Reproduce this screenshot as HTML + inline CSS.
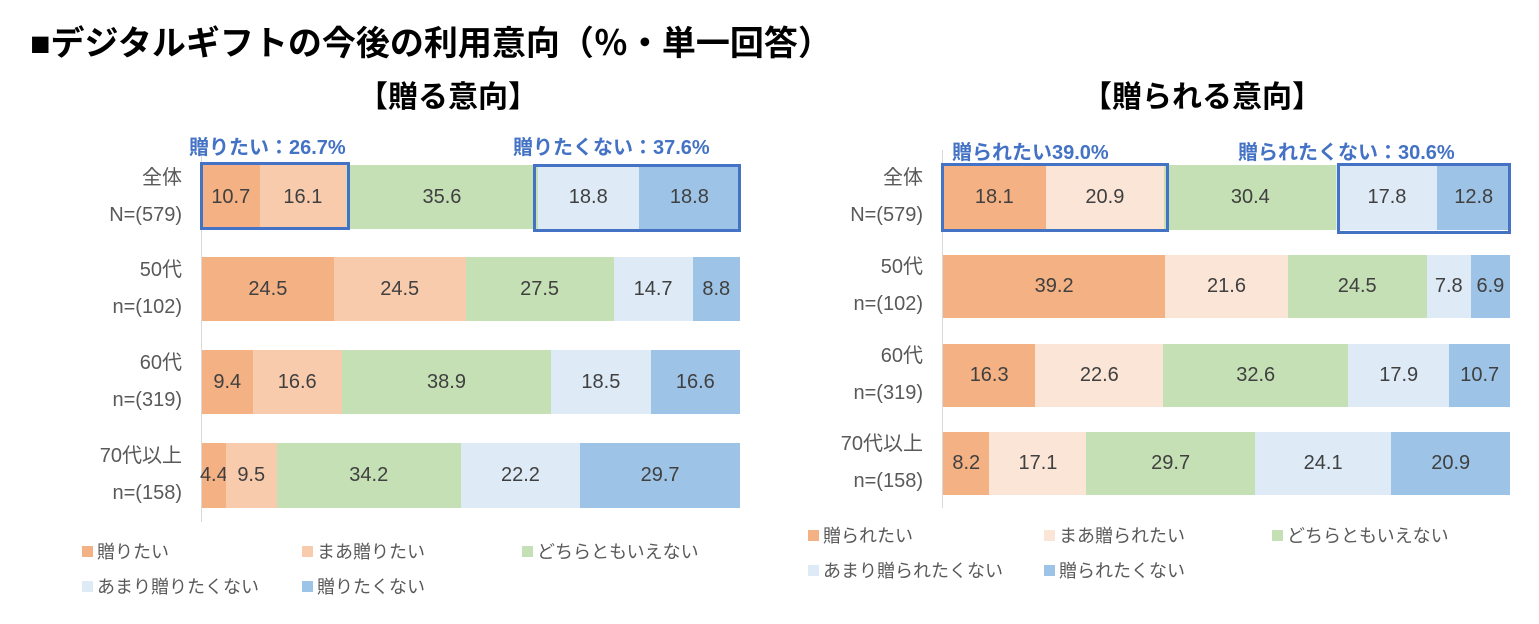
<!DOCTYPE html>
<html><head><meta charset="utf-8"><style>
body{margin:0;width:1539px;height:624px;background:#fff;position:relative;overflow:hidden;font-family:"Liberation Sans","Noto Sans CJK JP",sans-serif;}
.a{position:absolute;}
.t{font-weight:bold;color:#000;white-space:nowrap;}
.bar{position:absolute;display:flex;}
.bar div{height:100%;display:flex;align-items:center;justify-content:center;font-size:20px;color:#404040;overflow:visible;white-space:nowrap;}
.c1{background:#F4B183}.c2{background:#F8CBAD}.c2b{background:#FBE5D6}.c3{background:#C5E0B4}.c4{background:#DEEBF7}.c5{background:#9DC3E6}
.cat{position:absolute;text-align:right;font-size:20px;color:#595959;line-height:37px;white-space:nowrap;}
.box{position:absolute;border:3px solid #4472C4;box-sizing:border-box;}
.hl{position:absolute;color:#4472C4;font-weight:bold;font-size:20px;white-space:nowrap;}
.lg{position:absolute;font-size:18px;color:#595959;white-space:nowrap;display:flex;align-items:center;}
.lg span{display:inline-block;width:11px;height:11px;margin-right:4px;}
.ax{position:absolute;width:1px;background:#d9d9d9;}
</style></head><body>
<div class="a t" style="left:30px;top:16px;font-size:34px;">■デジタルギフトの今後の利用意向（％・単一回答）</div>
<div class="a t" style="left:358px;top:72px;font-size:30px;">【贈る意向】</div>
<div class="a t" style="left:1082px;top:72px;font-size:30px;">【贈られる意向】</div>

<!-- left chart -->
<div class="ax" style="left:201px;top:150px;height:372px;"></div>
<div class="cat" style="right:1357px;top:160px;">全体<br>N=(579)</div>
<div class="cat" style="right:1357px;top:252px;">50代<br>n=(102)</div>
<div class="cat" style="right:1357px;top:345px;">60代<br>n=(319)</div>
<div class="cat" style="right:1357px;top:438px;">70代以上<br>n=(158)</div>
<div class="bar" style="left:202px;top:165px;width:538px;height:64px;"><div class="c1" style="width:10.7%">10.7</div><div class="c2" style="width:16.1%">16.1</div><div class="c3" style="width:35.6%">35.6</div><div class="c4" style="width:18.8%">18.8</div><div class="c5" style="width:18.8%">18.8</div></div>
<div class="bar" style="left:202px;top:257px;width:538px;height:64px;"><div class="c1" style="width:24.5%">24.5</div><div class="c2" style="width:24.5%">24.5</div><div class="c3" style="width:27.5%">27.5</div><div class="c4" style="width:14.7%">14.7</div><div class="c5" style="width:8.8%">8.8</div></div>
<div class="bar" style="left:202px;top:350px;width:538px;height:64px;"><div class="c1" style="width:9.4%">9.4</div><div class="c2" style="width:16.6%">16.6</div><div class="c3" style="width:38.9%">38.9</div><div class="c4" style="width:18.5%">18.5</div><div class="c5" style="width:16.6%">16.6</div></div>
<div class="bar" style="left:202px;top:443px;width:538px;height:65px;"><div class="c1" style="width:4.4%">4.4</div><div class="c2" style="width:9.5%">9.5</div><div class="c3" style="width:34.2%">34.2</div><div class="c4" style="width:22.2%">22.2</div><div class="c5" style="width:29.7%">29.7</div></div>
<div class="box" style="left:200px;top:162px;width:150px;height:68px;"></div>
<div class="box" style="left:533px;top:164px;width:208px;height:68px;"></div>
<div class="hl" style="left:189px;top:131px;">贈りたい：26.7%</div>
<div class="hl" style="left:513px;top:131px;">贈りたくない：37.6%</div>
<div class="lg" style="left:82px;top:538px;"><span class="c1"></span>贈りたい</div>
<div class="lg" style="left:302px;top:538px;"><span class="c2"></span>まあ贈りたい</div>
<div class="lg" style="left:522px;top:538px;"><span class="c3"></span>どちらともいえない</div>
<div class="lg" style="left:82px;top:573px;"><span class="c4"></span>あまり贈りたくない</div>
<div class="lg" style="left:302px;top:573px;"><span class="c5"></span>贈りたくない</div>

<!-- right chart -->
<div class="ax" style="left:942px;top:150px;height:358px;"></div>
<div class="cat" style="right:616px;top:160px;">全体<br>N=(579)</div>
<div class="cat" style="right:616px;top:249px;">50代<br>n=(102)</div>
<div class="cat" style="right:616px;top:338px;">60代<br>n=(319)</div>
<div class="cat" style="right:616px;top:426px;">70代以上<br>n=(158)</div>
<div class="bar" style="left:943px;top:165px;width:567px;height:65px;"><div class="c1" style="width:18.1%">18.1</div><div class="c2b" style="width:20.9%">20.9</div><div class="c3" style="width:30.4%">30.4</div><div class="c4" style="width:17.8%">17.8</div><div class="c5" style="width:12.8%">12.8</div></div>
<div class="bar" style="left:943px;top:255px;width:567px;height:63px;"><div class="c1" style="width:39.2%">39.2</div><div class="c2b" style="width:21.6%">21.6</div><div class="c3" style="width:24.5%">24.5</div><div class="c4" style="width:7.8%">7.8</div><div class="c5" style="width:6.9%">6.9</div></div>
<div class="bar" style="left:943px;top:344px;width:567px;height:63px;"><div class="c1" style="width:16.3%">16.3</div><div class="c2b" style="width:22.6%">22.6</div><div class="c3" style="width:32.6%">32.6</div><div class="c4" style="width:17.9%">17.9</div><div class="c5" style="width:10.7%">10.7</div></div>
<div class="bar" style="left:943px;top:432px;width:567px;height:63px;"><div class="c1" style="width:8.2%">8.2</div><div class="c2b" style="width:17.1%">17.1</div><div class="c3" style="width:29.7%">29.7</div><div class="c4" style="width:24.1%">24.1</div><div class="c5" style="width:20.9%">20.9</div></div>
<div class="box" style="left:941px;top:163px;width:228px;height:69px;"></div>
<div class="box" style="left:1337px;top:163px;width:174px;height:71px;"></div>
<div class="hl" style="left:952px;top:136px;">贈られたい39.0%</div>
<div class="hl" style="left:1238px;top:136px;">贈られたくない：30.6%</div>
<div class="lg" style="left:808px;top:522px;"><span class="c1"></span>贈られたい</div>
<div class="lg" style="left:1044px;top:522px;"><span class="c2b"></span>まあ贈られたい</div>
<div class="lg" style="left:1272px;top:522px;"><span class="c3"></span>どちらともいえない</div>
<div class="lg" style="left:808px;top:557px;"><span class="c4"></span>あまり贈られたくない</div>
<div class="lg" style="left:1044px;top:557px;"><span class="c5"></span>贈られたくない</div>
</body></html>
